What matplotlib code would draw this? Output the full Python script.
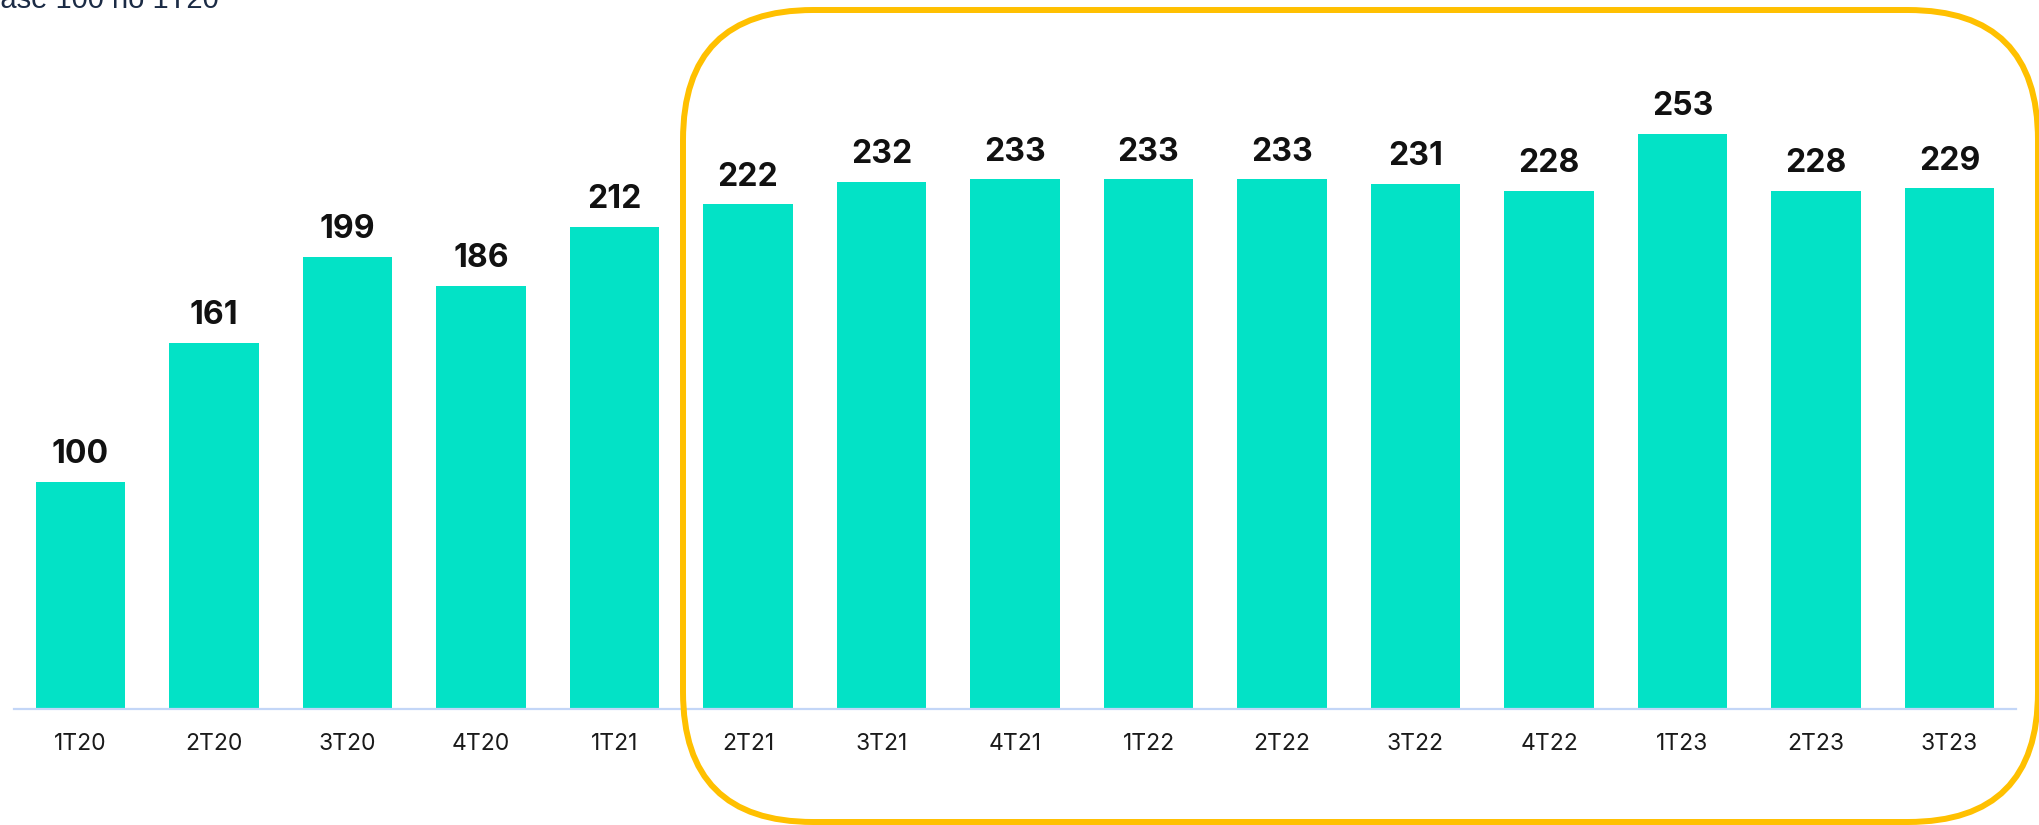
import matplotlib
matplotlib.use('Agg')
import matplotlib.pyplot as plt
from matplotlib.patches import FancyBboxPatch
import numpy as np

# quarterly index, base 100 in 1T20
quarters = ['1T20', '2T20', '3T20', '4T20', '1T21', '2T21', '3T21', '4T21',
            '1T22', '2T22', '3T22', '4T22', '1T23', '2T23', '3T23']
index_values = [100, 161, 199, 186, 212, 222, 232, 233,
                233, 233, 231, 228, 253, 228, 229]
subtitle = 'Base 100 no 1T20'

bar_color = '#03E2C6'
axis_color = '#C3D6F7'
frame_color = '#FFC000'

plt.rcParams['font.family'] = ['Inter', 'DejaVu Sans']

fig = plt.figure(figsize=(20.39, 8.25), dpi=100)
ax = fig.add_axes([13.75 / 2039, 0.1406, 2002.5 / 2039, 0.8267])

x = np.arange(len(quarters))
bars = ax.bar(x, index_values, width=0.667, color=bar_color)

for xi, v in zip(x, index_values):
    ax.annotate(f'{v}', xy=(xi, v), xytext=(0, 13.5), textcoords='offset points',
                ha='center', va='baseline', fontsize=23, fontweight='bold',
                color='#111111')

ax.set_xlim(-0.5, len(quarters) - 0.5)
ax.set_ylim(0, 300)
ax.set_xticks(x)
ax.set_xticklabels(quarters, fontsize=16.5, color='#1a1a1a')
ax.tick_params(axis='x', length=0, pad=17)
ax.set_yticks([])
for side in ['top', 'right', 'left']:
    ax.spines[side].set_visible(False)
ax.spines['bottom'].set_color(axis_color)
ax.spines['bottom'].set_linewidth(1.6)

# highlight frame around 2T21 onwards (inches)
frame = FancyBboxPatch((6.83, 0.03), 13.55, 8.12,
                       boxstyle='round,pad=0,rounding_size=1.3',
                       transform=fig.dpi_scale_trans, fill=False,
                       edgecolor=frame_color, linewidth=4.3, clip_on=False)
fig.patches.append(frame)

fig.text(-19 / 2039, 1 - 8 / 825, subtitle, fontsize=21, color='#1B2B45',
         family=['Liberation Sans', 'DejaVu Sans'], ha='left', va='baseline')

fig.savefig('out.png', dpi=100)
